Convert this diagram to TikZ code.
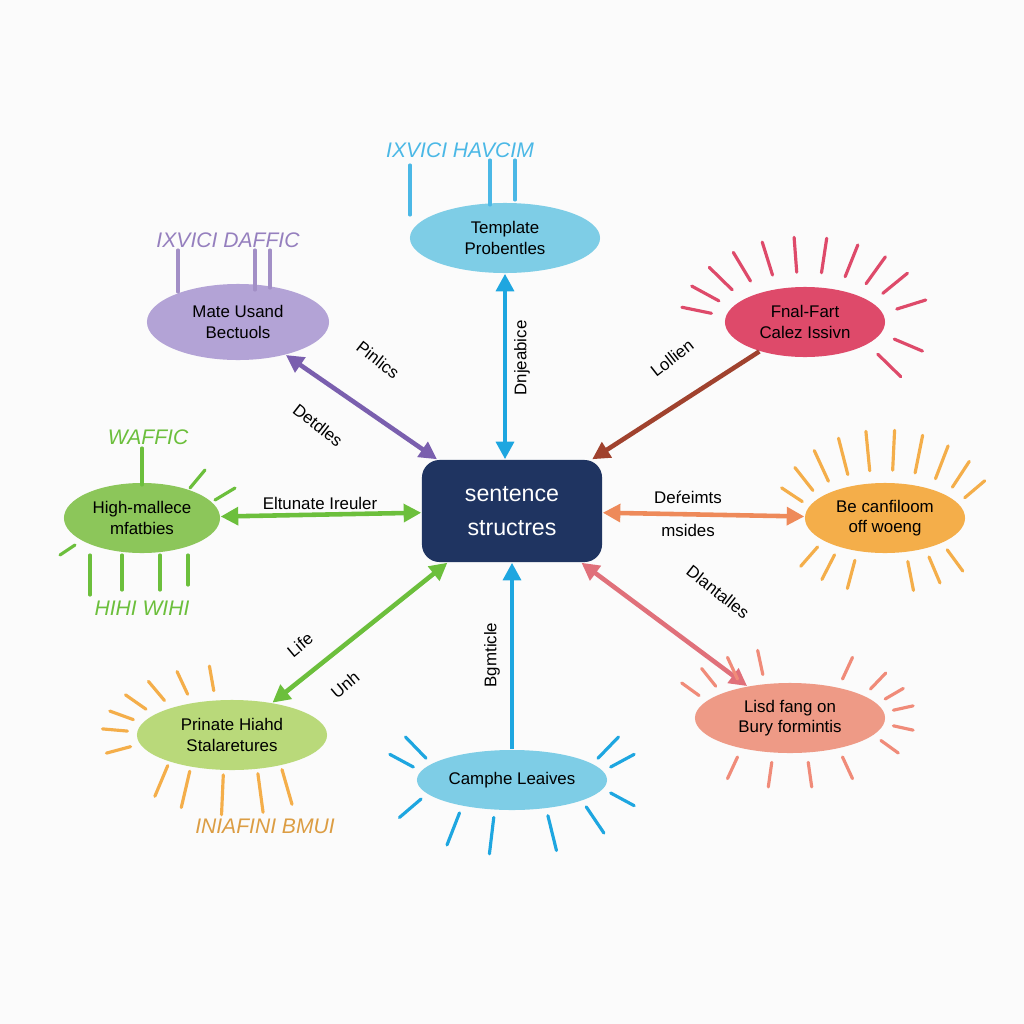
\documentclass[tikz,border=0pt]{standalone}
\usepackage{fontspec}
\setmainfont{Liberation Sans}
\usetikzlibrary{shapes.geometric,arrows.meta,calc}
\definecolor{navy}{HTML}{1F3461}
\definecolor{lblue}{HTML}{7ECDE6}
\definecolor{lav}{HTML}{B3A3D6}
\definecolor{crim}{HTML}{DE4A6A}
\definecolor{grn}{HTML}{8CC65A}
\definecolor{org}{HTML}{F4AE4A}
\definecolor{lgrn}{HTML}{B9D97A}
\definecolor{salm}{HTML}{EE9A86}
\definecolor{purp}{HTML}{7A5FAE}
\definecolor{bl}{HTML}{1EA6E0}
\definecolor{brn}{HTML}{A0422E}
\definecolor{ag}{HTML}{6CBF3C}
\definecolor{ao}{HTML}{EE8A5A}
\definecolor{ap}{HTML}{E0707A}
\begin{document}
\begin{tikzpicture}[x=0.01cm,y=-0.01cm,
  el/.style={ellipse,inner sep=0pt,align=center,font=\fontsize{4.8}{5.8}\selectfont},
  lab/.style={font=\fontsize{4.8}{5.8}\selectfont,inner sep=0pt},
  hand/.style={font=\fontsize{6}{6}\selectfont\itshape,inner sep=0pt},
  arr/.style={line width=1.3pt,-{Triangle[length=5pt,width=5pt]}},
  darr/.style={line width=1.3pt,{Triangle[length=5pt,width=5pt]}-{Triangle[length=5pt,width=5pt]}},
  ray/.style={line width=0.9pt,line cap=round}]
\useasboundingbox (0,0) rectangle (1024,1024);
\fill[white!97!gray] (0,0) rectangle (1024,1024);
% nodes
\node[rounded corners=5pt,fill=navy,text=white,minimum width=1.8cm,minimum height=1.02cm,align=center,font=\fontsize{6.6}{9.5}\selectfont] (c) at (512,511) {sentence\\structres};
\node[el,fill=lblue,minimum width=1.9cm,minimum height=0.7cm] (t) at (505,238) {Template\\Probentles};
\node[el,fill=lav,minimum width=1.82cm,minimum height=0.76cm] (tl) at (238,322) {Mate Usand\\Bectuols};
\node[el,fill=crim,minimum width=1.6cm,minimum height=0.7cm] (tr) at (805,322) {Fnal-Fart\\Calez Issivn};
\node[el,fill=grn,minimum width=1.56cm,minimum height=0.7cm] (l) at (142,518) {High-mallecе\\mfatbies};
\node[el,fill=org,minimum width=1.6cm,minimum height=0.7cm] (r) at (885,518) {Be canfiloom\\off woeng};
\node[el,fill=lgrn,minimum width=1.9cm,minimum height=0.7cm] (bl) at (232,735) {Prinate Hiahd\\Stalaretures};
\node[el,fill=lblue,minimum width=1.9cm,minimum height=0.6cm] (b) at (512,780) {Camphe Leaives};
\node[el,fill=salm,minimum width=1.9cm,minimum height=0.7cm] (br) at (790,718) {Lisd fang on\\Bury formintis};
% connectors
\draw[darr,purp] (tl) -- (c);
\draw[darr,bl] (t.south) -- (t.south |- c.north);
\draw[arr,brn] (tr) -- (c);
\draw[darr,ag] (l) -- (c);
\draw[darr,ao] (c) -- (r);
\draw[darr,ag] (bl) -- (c);
\draw[arr,bl] (b) -- (c);
\draw[darr,ap] (c) -- (br);
% labels
\node[lab,rotate=-38] (l1) at (378,360) {Pinlics};
\node[lab,rotate=-38] (l2) at (318,425) {Detdles};
\node[lab,rotate=90] (l3) at (522,358) {Dnjeabice};
\node[lab,rotate=38] (l4) at (672,358) {Lollien};
\node[lab] (l5) at (320,503) {Eltunate Ireuler};
\node[lab] (l6) at (688,497) {Deŕeimts};
\node[lab] (l7) at (688,530) {msides};
\node[lab,rotate=40] (l8) at (300,645) {Life};
\node[lab,rotate=40] (l9) at (345,685) {Unh};
\node[lab,rotate=90] (l10) at (492,655) {Bgmticle};
\node[lab,rotate=-38] (l11) at (718,592) {Dlantalles};
% handwritten texts
\node[hand,text=bl!80] (h1) at (460,150) {IXVICI HAVCIM};
\node[hand,text=purp!80] (h2) at (228,240) {IXVICI DAFFIC};
\node[hand,text=ag] (h3) at (148,437) {WAFFIC};
\node[hand,text=ag] (h4) at (142,608) {HIHI WIHI};
\node[hand,text=org!90!black] (h5) at (265,826) {INIAFINI BMUI};
% decorative strokes
\foreach \x/\a/\b in {410/165/215,490/160/205,515/160/200}
  \draw[ray,bl!80] (\x,\a) -- (\x,\b);
\foreach \x/\a/\b in {178/250/292,255/250/290,270/250/288}
  \draw[ray,purp!70] (\x,\a) -- (\x,\b);
\draw[ray,ag] (142,448) -- (142,485);
\foreach \x/\a/\b in {90/555/595,122/555/590,160/555/590,188/555/585}
  \draw[ray,ag] (\x,\a) -- (\x,\b);
\draw[ray,ag] (60,555) -- (75,545);\draw[ray,ag] (190,488) -- (205,470);\draw[ray,ag] (215,500) -- (235,488);
\foreach \a in {190,205,220,235,250,265,280,295,310,325,345,20,40}
  \draw[ray,crim] ($(tr)+(\a:95 and 50)$) -- ($(tr)+(\a:125 and 85)$);
\foreach \a in {200,215,230,245,260,275,290,305,320,335}
  \draw[ray,org] ($(r)+(\a:88 and 48)$) -- ($(r)+(\a:110 and 88)$);
\foreach \a in {110,125,140,60,75,45}
  \draw[ray,org] ($(r)+(\a:88 and 45)$) -- ($(r)+(\a:110 and 75)$);
\foreach \a in {210,225,240,255,300,320,335,350,10,30,60,80,100,120}
  \draw[ray,salm!90!red] ($(br)+(\a:105 and 45)$) -- ($(br)+(\a:125 and 70)$);
\foreach \a in {165,185,200,215,230,245,260}
  \draw[ray,org] ($(bl)+(\a:105 and 45)$) -- ($(bl)+(\a:130 and 70)$);
\foreach \a in {60,75,95,115,130}
  \draw[ray,org] ($(bl)+(\a:100 and 40)$) -- ($(bl)+(\a:120 and 80)$);
\foreach \a in {200,215,325,340,20,45,70,100,120,150}
  \draw[ray,bl] ($(b)+(\a:105 and 38)$) -- ($(b)+(\a:130 and 75)$);
\end{tikzpicture}
\end{document}
